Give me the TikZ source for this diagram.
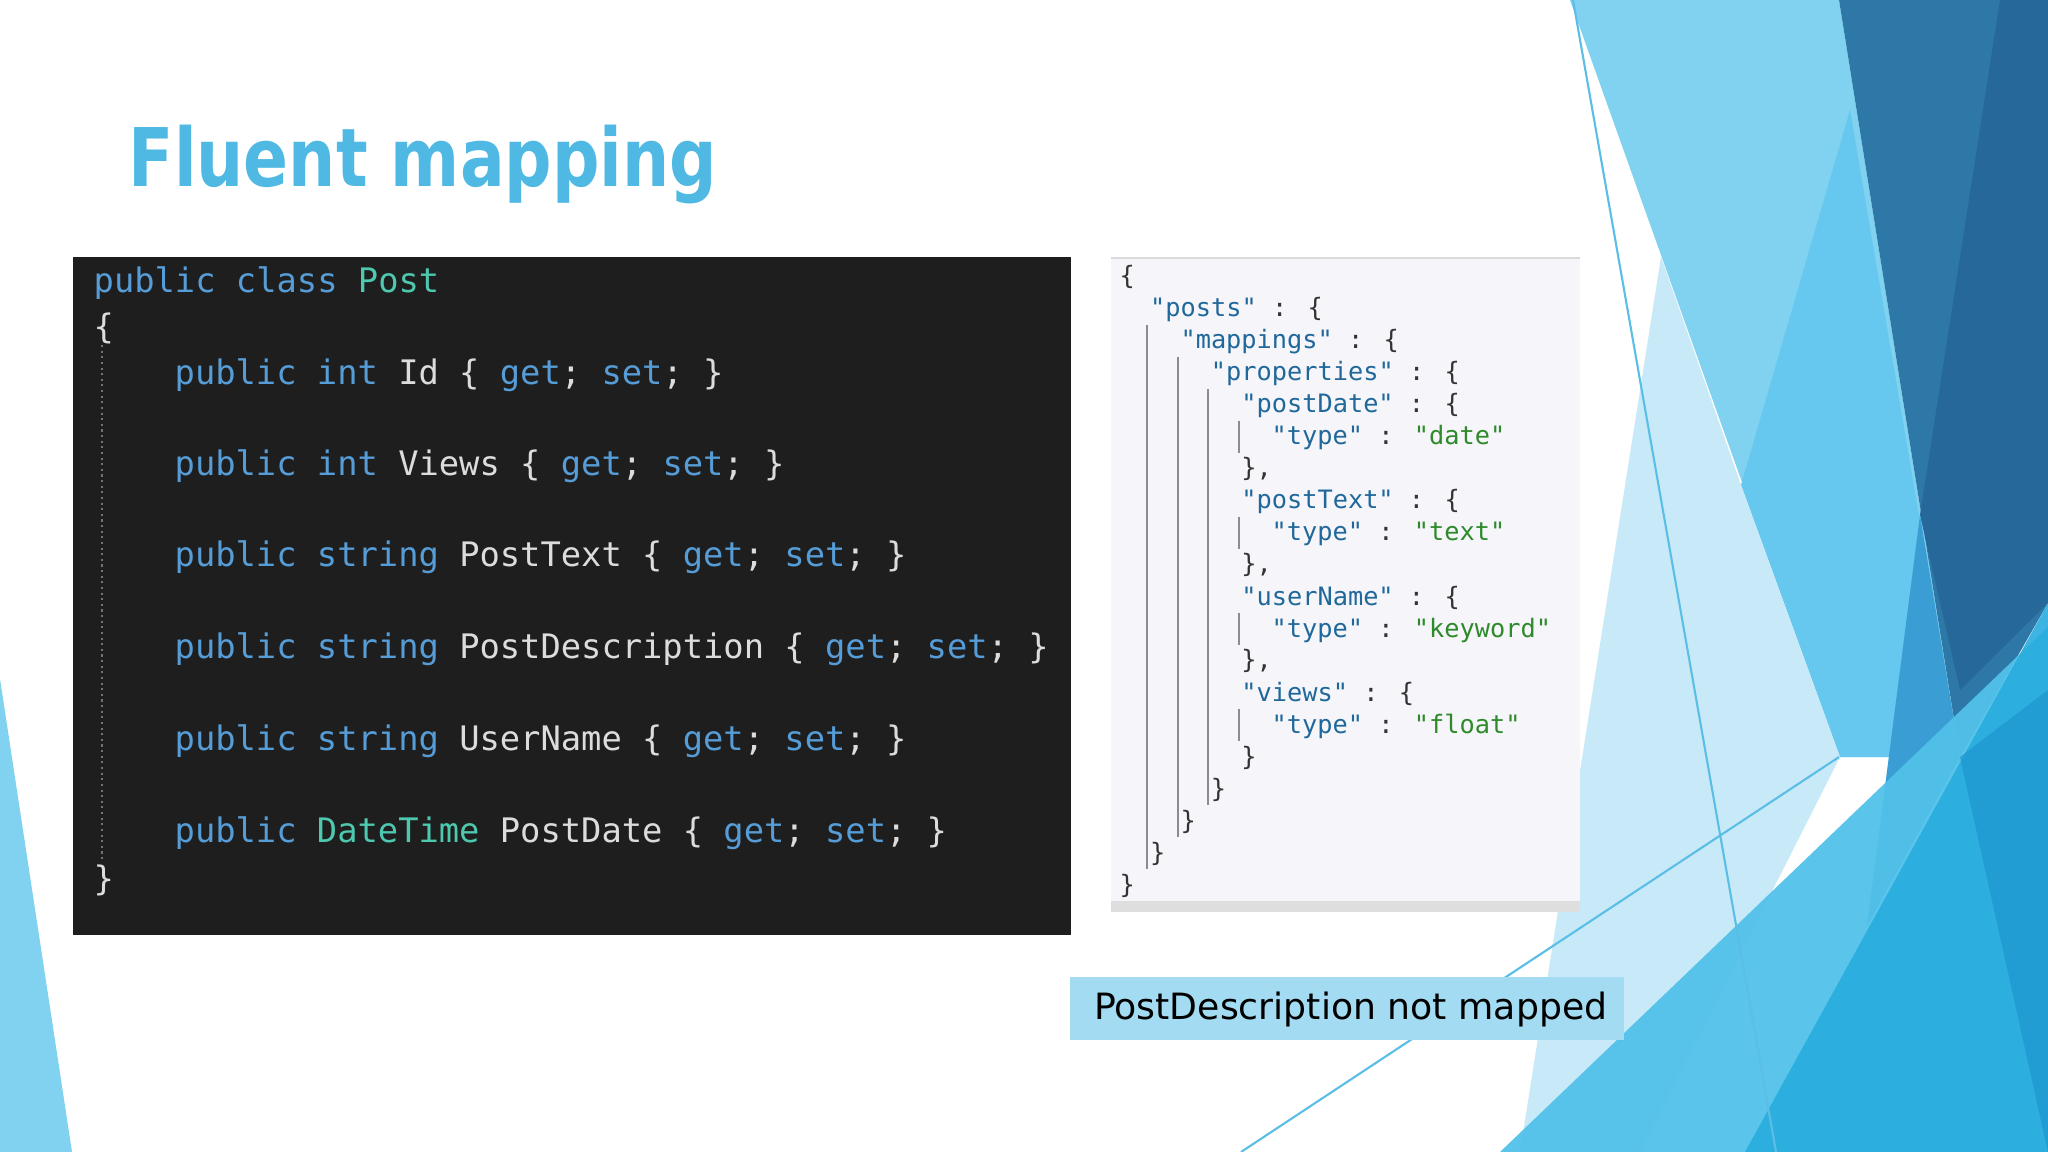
\documentclass[tikz,border=0pt]{standalone}
\usepackage{fontspec}
\setmainfont{DejaVu Sans}
\newfontfamily\codefont{DejaVu Sans Mono}
\definecolor{titleblue}{HTML}{4FB9E3}
\definecolor{codebg}{HTML}{1E1E1E}
\definecolor{kw}{HTML}{569CD6}
\definecolor{ty}{HTML}{4EC9B0}
\definecolor{tx}{HTML}{DCDCDC}
\definecolor{jbg}{HTML}{F5F5FA}
\definecolor{jkey}{HTML}{21689A}
\definecolor{jval}{HTML}{2E8A2A}
\definecolor{jpun}{HTML}{333333}
\definecolor{capbg}{HTML}{A3DCF2}
\newcommand\K[1]{\textcolor{kw}{#1}}
\newcommand\T[1]{\textcolor{ty}{#1}}
\newcommand\GS{\{ \K{get}; \K{set}; \}}
\newcommand\jk[1]{\textcolor{jkey}{"#1"}}
\newcommand\jv[1]{\textcolor{jval}{"#1"}}
\tikzset{
  code/.style={anchor=base west,inner sep=0pt,text=tx,font=\codefont\fontsize{9.6pt}{11pt}\selectfont},
  json/.style={anchor=base west,inner sep=0pt,text=jpun,font=\codefont\fontsize{7.2pt}{8pt}\selectfont},
  guide/.style={draw=black!45,line width=0.6pt}
}
\begin{document}
\begin{tikzpicture}[x=0.01cm,y=-0.01cm]
\useasboundingbox (0,0) rectangle (2048,1152);
\fill[white] (0,0) rectangle (2048,1152);
% background shapes
\fill[fill={rgb,255:red,128;green,210;blue,240}] (1570,0) -- (1839,0) -- (1960,757) -- (1840,757) -- cycle;
\fill[fill={rgb,255:red,102;green,200;blue,238}] (1850,110) -- (1960,757) -- (1840,757) -- (1741,485) -- cycle;
\fill[fill={rgb,255:red,200;green,234;blue,248}] (1661,257) -- (1741,485) -- (1840,757) -- (1640,1152) -- (1520,1152) -- cycle;
\fill[fill={rgb,255:red,46;green,120;blue,168}] (1839,0) -- (2048,0) -- (2048,603) -- (1960,757) -- cycle;
\fill[fill={rgb,255:red,38;green,104;blue,154}] (2000,0) -- (2048,0) -- (2048,603) -- (1960,690) -- (1920,515) -- cycle;
\fill[fill={rgb,255:red,58;green,158;blue,212}] (1920,515) -- (1960,757) -- (1867,926) -- cycle;
\fill[fill={rgb,255:red,82;green,193;blue,234},opacity=0.95] (1500,1152) -- (2048,627) -- (2048,1152) -- cycle;
\fill[fill={rgb,255:red,40;green,172;blue,222},opacity=0.9] (1745,1152) -- (2048,603) -- (2048,1152) -- cycle;
\fill[fill={rgb,255:red,30;green,150;blue,206},opacity=0.7] (1960,757) -- (2048,1152) -- (2048,690) -- cycle;
\fill[fill={rgb,255:red,128;green,210;blue,240}] (0,679) -- (72,1152) -- (0,1152) -- cycle;
\coordinate (l1a) at (1573,0); \coordinate (l1b) at (1776,1152);
\coordinate (l2a) at (1241,1152); \coordinate (l2b) at (1839,757);
\draw[line width=0.6pt,color={rgb,255:red,90;green,190;blue,230}] (l1a) -- (l1b);
\draw[line width=0.6pt,color={rgb,255:red,90;green,190;blue,230}] (l2a) -- (l2b);
% title
\node[anchor=base west,inner sep=0pt,text=titleblue,font=\bfseries\fontsize{23pt}{26pt}\selectfont] (title) at (128,187) {\scalebox{0.82}[1]{Fluent mapping}};
% code box
\fill[codebg] (73,257) rectangle (1071,935);
\node[code] (c0) at (93,293) {\K{public} \K{class} \T{Post}};
\node[code] (c1) at (93,339) {\{};
\node[code] (c2) at (174,385) {\K{public} \K{int} Id \GS};
\node[code] (c3) at (174,476) {\K{public} \K{int} Views \GS};
\node[code] (c4) at (174,567) {\K{public} \K{string} PostText \GS};
\node[code] (c5) at (174,659) {\K{public} \K{string} PostDescription \GS};
\node[code] (c6) at (174,750) {\K{public} \K{string} UserName \GS};
\node[code] (c7) at (174,842) {\K{public} \T{DateTime} PostDate \GS};
\node[code] (c8) at (93,890) {\}};
\coordinate (g0a) at (102,345); \coordinate (g0b) at (102,862);
\draw[densely dotted,color=black!55!white,line width=0.6pt] (g0a) -- (g0b);
% json box
\fill[jbg] (1111,257) rectangle (1580,912);
\draw[black!15,line width=0.8pt] (1111,258) -- (1580,258);
\fill[black!13] (1111,901) rectangle (1580,912);
\foreach \i/\lv/\txt in {
 0/0/{\{},
 1/1/{\jk{posts} : \{},
 2/2/{\jk{mappings} : \{},
 3/3/{\jk{properties} : \{},
 4/4/{\jk{postDate} : \{},
 5/5/{\jk{type} : \jv{date}},
 6/4/{\},},
 7/4/{\jk{postText} : \{},
 8/5/{\jk{type} : \jv{text}},
 9/4/{\},},
 10/4/{\jk{userName} : \{},
 11/5/{\jk{type} : \jv{keyword}},
 12/4/{\},},
 13/4/{\jk{views} : \{},
 14/5/{\jk{type} : \jv{float}},
 15/4/{\}},
 16/3/{\}},
 17/2/{\}},
 18/1/{\}},
 19/0/{\}}}
{ \node[json] (j\i) at ({1119+30.4*\lv},{285+32*\i}) {\txt}; }
\foreach \k/\a/\b in {1/2/18,2/3/17,3/4/16,4/5/5,4/8/8,4/11/11,4/14/14}
{ \draw[guide] ({1117+30.4*\k},{261+32*\a}) -- ({1117+30.4*\k},{293+32*\b}); }
% caption
\fill[capbg] (1070,977) rectangle (1624,1040);
\node[anchor=east,inner sep=0pt,font=\fontsize{10.3pt}{12pt}\selectfont] (cap) at (1608,1010) {PostDescription not mapped};
\end{tikzpicture}
\end{document}
